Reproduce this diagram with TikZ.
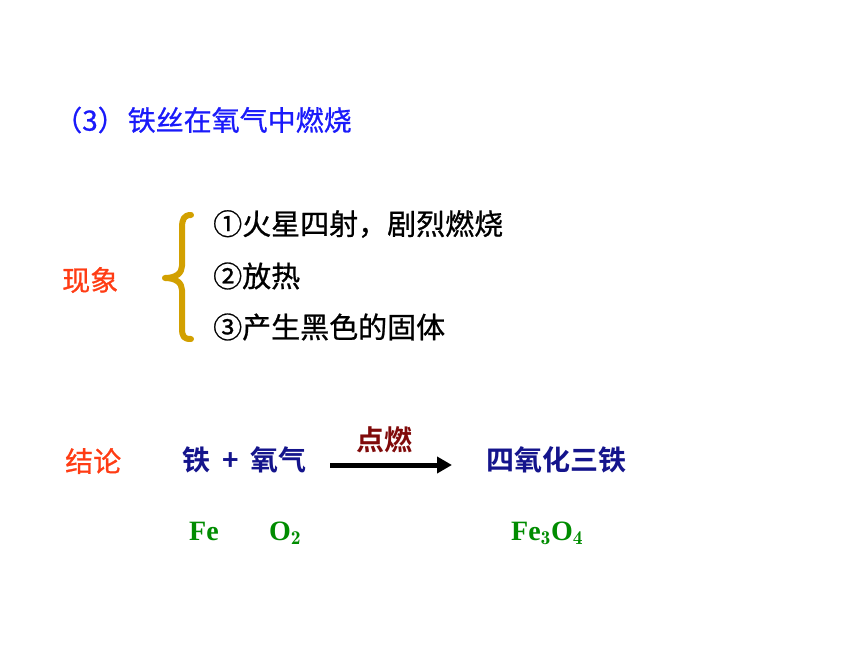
\documentclass[tikz,border=0pt]{standalone}
\usepackage{fontspec}
\newfontfamily\cjk[FakeBold=0.8]{Noto Sans CJK SC}
\newfontfamily\cjkb{Noto Sans CJK SC Bold}
\newfontfamily\serifb{Liberation Serif Bold}
\usetikzlibrary{arrows.meta}
\definecolor{titleblue}{RGB}{26,26,250}
\definecolor{labelred}{RGB}{255,60,20}
\definecolor{bracegold}{RGB}{210,160,0}
\definecolor{navy}{RGB}{20,20,140}
\definecolor{darkred}{RGB}{128,10,10}
\definecolor{chemgreen}{RGB}{0,140,0}
\begin{document}
\begin{tikzpicture}[x=1pt,y=-1pt,
  txt/.style={anchor=west,inner sep=0pt,font=\cjk\fontsize{28}{30}\selectfont},
  itm/.style={anchor=west,inner sep=0pt,font=\cjk\fontsize{29}{31}\selectfont},
  btxt/.style={anchor=west,inner sep=0pt,font=\cjkb\fontsize{28}{30}\selectfont},
  chem/.style={anchor=west,inner sep=0pt,text=chemgreen,font=\serifb\fontsize{28}{30}\selectfont},
  bracestyle/.style={draw=bracegold,line width=6pt,line cap=round,line join=round}]
\useasboundingbox (0,0) rectangle (860,645);
\node[txt,text=titleblue] (title) at (54,120) {（3）\hspace{2pt}铁丝在氧气中燃烧};
\node[txt,text=labelred] (phen) at (62,280) {现象};
\draw[bracestyle] (191,215) .. controls (184,215) and (182,219) .. (182,228)
  -- (182,266) .. controls (182,273) and (176,278) .. (165,278)
  .. controls (176,278) and (182,283) .. (182,290)
  -- (182,328) .. controls (182,337) and (184,339) .. (191,339);
\node[itm] (i1) at (213,224) {①火星四射，剧烈燃烧};
\node[itm] (i2) at (213,276) {②放热};
\node[itm] (i3) at (213,327) {③产生黑色的固体};
\node[txt,text=labelred] (concl) at (65,461) {结论};
\node[btxt,text=navy] (react) at (182,460) {铁\hspace{12pt}+\hspace{12pt}氧气};
\node[btxt,text=navy] (prod) at (486,460) {四氧化三铁};
\coordinate (a1) at (330,465);
\coordinate (a2) at (452,465);
\draw[line width=5pt,-{Triangle[length=15pt,width=16pt]}] (a1) -- (a2);
\node[btxt,text=darkred] (cond) at (356,440) {点燃};
\node[chem] (fe) at (189,531) {Fe};
\node[chem] (o2) at (269,533) {O$_{\mathbf 2}$};
\node[chem] (fe3o4) at (511,533) {Fe$_{\mathbf 3}$O$_{\mathbf 4}$};
\end{tikzpicture}
\end{document}
